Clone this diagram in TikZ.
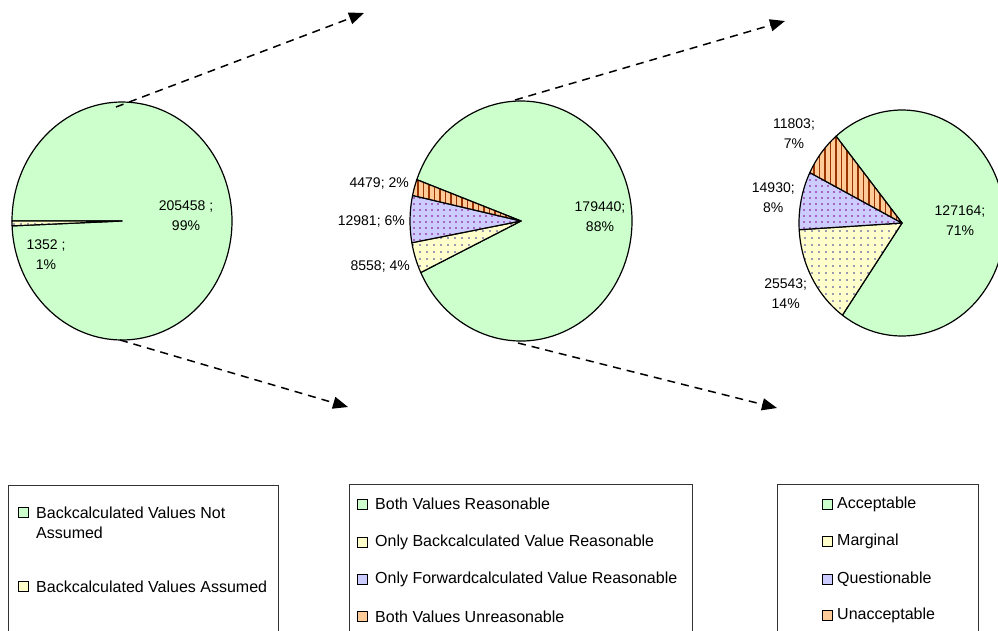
\documentclass[tikz,border=0pt]{standalone}
\usepackage{fontspec}
\setmainfont{Liberation Sans}
\usetikzlibrary{arrows.meta,patterns.meta}
\definecolor{pgreen}{HTML}{CCFFCC}
\definecolor{pyel}{HTML}{FFFFCC}
\definecolor{pblue}{HTML}{CCCCFF}
\definecolor{porange}{HTML}{FFCC99}
\definecolor{stripe}{HTML}{993300}
\definecolor{dotblue}{HTML}{333399}
\definecolor{dotpurple}{HTML}{800080}
\begin{document}
\begin{tikzpicture}[x=1pt,y=-1pt,
 slice/.style={draw=black, line width=1.2pt, line join=round},
 gslice/.style={slice, fill=pgreen},
 yslice/.style={slice, preaction={fill=pyel}, pattern={Dots[distance=7pt,radius=0.8pt]}, pattern color=dotblue},
 bslice/.style={slice, preaction={fill=pblue}, pattern={Dots[distance=6pt,radius=0.8pt]}, pattern color=dotpurple},
 oslice/.style={slice, preaction={fill=porange}, pattern={Lines[angle=90,distance=5.5pt,line width=1.6pt]}, pattern color=stripe},
 lbl/.style={font=\fontsize{14}{20}\selectfont, align=center, inner sep=0pt},
 lblr/.style={font=\fontsize{14}{20}\selectfont, anchor=east, inner sep=0pt},
 zoomarrow/.style={line width=1.5pt, dash pattern=on 8pt off 6pt, -{Triangle[length=15pt,width=12pt]}},
 legbox/.style={draw=black!80, line width=1pt},
 legsq/.style={draw=black, line width=1pt, minimum size=10pt, inner sep=0pt},
 legtxt/.style={anchor=west, font=\fontsize{16}{20}\selectfont, inner sep=0pt, align=left},
]
\useasboundingbox (0,0) rectangle (998,630);
\clip (0,0) rectangle (998,630);

% ---------- Pie 1 ----------
\begin{scope}[shift={(122,221)}, x=110pt, y=119pt]
  \path[gslice] (0,0) -- (182.35:1) arc[start angle=182.35, end angle=540, radius=1] -- cycle;
  \path[yslice] (0,0) -- (180:1) arc[start angle=180, end angle=182.35, radius=1] -- cycle;
\end{scope}
\node[lbl] (p1g) at (186,216) {205458 ;\\99\%};
\node[lbl] (p1y) at (46,255) {1352 ;\\1\%};

% ---------- Pie 2 ----------
\begin{scope}[shift={(521,221)}, x=111pt, y=120pt]
  \path[gslice] (0,0) -- (205.43:1) arc[start angle=205.43, end angle=519.85, radius=1] -- cycle;
  \path[yslice] (0,0) -- (190.44:1) arc[start angle=190.44, end angle=205.43, radius=1] -- cycle;
  \path[bslice] (0,0) -- (167.7:1) arc[start angle=167.7, end angle=190.44, radius=1] -- cycle;
  \path[oslice] (0,0) -- (159.85:1) arc[start angle=159.85, end angle=167.7, radius=1] -- cycle;
\end{scope}
\node[lbl] (p2g) at (600,217) {179440;\\88\%};
\node[lblr] (p2o) at (409,184) {4479; 2\%};
\node[lblr] (p2b) at (405,221.7) {12981; 6\%};
\node[lblr] (p2y) at (410,266) {8558; 4\%};

% ---------- Pie 3 ----------
\begin{scope}[shift={(902,223)}, x=103pt, y=113pt]
  \path[gslice] (0,0) -- (234.65:1) arc[start angle=234.65, end angle=489.8, radius=1] -- cycle;
  \path[yslice] (0,0) -- (183.4:1) arc[start angle=183.4, end angle=234.65, radius=1] -- cycle;
  \path[bslice] (0,0) -- (153.5:1) arc[start angle=153.5, end angle=183.4, radius=1] -- cycle;
  \path[oslice] (0,0) -- (129.8:1) arc[start angle=129.8, end angle=153.5, radius=1] -- cycle;
\end{scope}
\node[lbl] (p3g) at (960,220.7) {127164;\\71\%};
\node[lbl] (p3o) at (794,134) {11803;\\7\%};
\node[lbl] (p3b) at (773.3,197.3) {14930;\\8\%};
\node[lbl] (p3y) at (785.7,294) {25543;\\14\%};

% ---------- Zoom arrows ----------
\coordinate (a1s) at (116,107);
\coordinate (a1e) at (364,13);
\coordinate (b1s) at (120,340);
\coordinate (b1e) at (348,407);
\coordinate (a2s) at (515,100);
\coordinate (a2e) at (785,21);
\coordinate (b2s) at (518,343);
\coordinate (b2e) at (777,408);
\draw[zoomarrow] (a1s) -- (a1e);
\draw[zoomarrow] (b1s) -- (b1e);
\draw[zoomarrow] (a2s) -- (a2e);
\draw[zoomarrow] (b2s) -- (b2e);

% ---------- Legends ----------
\draw[legbox] (8,640) |- (278,485) -- (278,640);
\node[legsq, fill=pgreen] (l1a) at (23,512) {};
\node[legtxt] (t1a) at (36,523) {Backcalculated Values Not\\Assumed};
\node[legsq, fill=pyel] (l1b) at (23,586.5) {};
\node[legtxt] (t1b) at (36,586.7) {Backcalculated Values Assumed};

\draw[legbox] (349,640) |- (692,484) -- (692,640);
\node[legsq, fill=pgreen] (l2a) at (362.5,504) {};
\node[legtxt] (t2a) at (375,504) {Both Values Reasonable};
\node[legsq, fill=pyel] (l2b) at (362.5,542) {};
\node[legtxt] (t2b) at (375,542) {Only Backcalculated Value Reasonable};
\node[legsq, fill=pblue] (l2c) at (362.5,579) {};
\node[legtxt] (t2c) at (375,579) {Only Forwardcalculated Value Reasonable};
\node[legsq, fill=porange] (l2d) at (362.5,616.7) {};
\node[legtxt] (t2d) at (375,616.7) {Both Values Unreasonable};

\draw[legbox] (777,640) |- (978,484) -- (978,640);
\node[legsq, fill=pgreen] (l3a) at (827,504) {};
\node[legtxt] (t3a) at (837,504) {Acceptable};
\node[legsq, fill=pyel] (l3b) at (827,541.7) {};
\node[legtxt] (t3b) at (837,541.7) {Marginal};
\node[legsq, fill=pblue] (l3c) at (827,579) {};
\node[legtxt] (t3c) at (837,579) {Questionable};
\node[legsq, fill=porange] (l3d) at (827,615.7) {};
\node[legtxt] (t3d) at (837,615.7) {Unacceptable};
\end{tikzpicture}
\end{document}
